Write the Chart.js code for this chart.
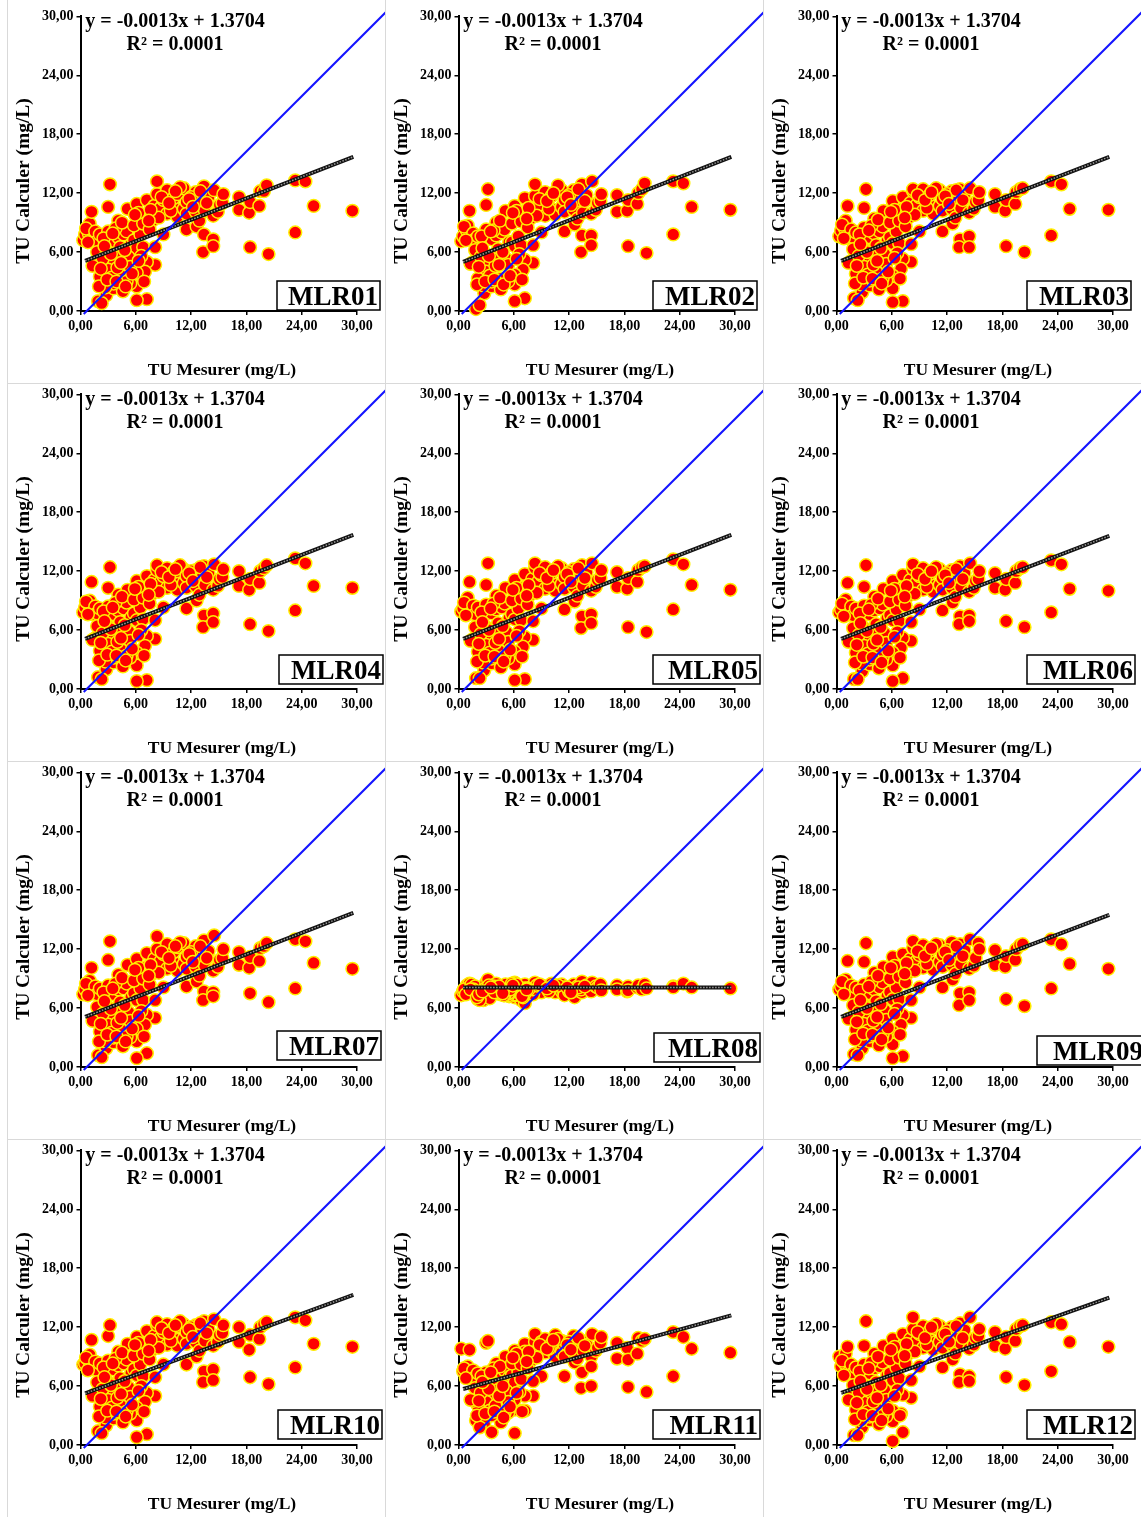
<!DOCTYPE html>
<html>
<head>
<meta charset="utf-8">
<script src="https://cdn.jsdelivr.net/npm/chart.js@4.4.1/dist/chart.umd.min.js"></script>
<style>
  body { margin: 0; background: #fff; }
  #page { position: relative; width: 1141px; height: 1517px; overflow: hidden; background: #fff; }
  .panel { position: absolute; width: 378px; height: 378px; }
  .vline { position: absolute; top: 0; width: 1px; height: 1517px; background: #d9d9d9; }
  .hline { position: absolute; left: 7px; width: 1134px; height: 1px; background: #d9d9d9; }
</style>
</head>
<body>
<div id="page"></div>
<script>
// measured turbidity (shared by every model), mg/L
const measured = [
  0.3,0.5,0.9,1.0,1.2,0.6,1.4,1.6,1.8,2.1,
  3.0,3.0,3.2,3.6,4.1,4.1,4.7,5.0,5.1,5.5,
  5.8,6.1,6.1,6.5,6.5,6.8,7.2,7.2,7.8,8.0,
  8.3,8.3,8.7,9.0,9.4,9.4,9.0,8.1,8.1,7.2,
  7.0,7.2,6.1,6.1,6.1,4.3,4.3,3.2,3.0,2.1,
  1.9,2.8,3.6,4.6,4.6,1.6,1.8,3.0,5.2,5.4,
  5.4,3.6,2.7,10.1,10.1,10.5,10.5,11.2,11.2,11.5,
  11.5,11.5,12.5,12.5,12.6,12.9,12.9,13.4,13.5,13.4,
  13.3,13.9,14.4,14.4,14.4,14.5,14.9,15.1,15.4,15.5,
  17.2,17.2,18.3,18.4,18.4,19.4,19.5,19.9,20.2,20.4,
  23.3,23.3,24.4,25.3,29.5,
  2.5,3.8,4.5,5.8,6.8,7.5,8.5,9.8,2.4,3.4,
  4.0,5.0,6.6,2.3,0.8,6.3,7.6,10.8,12.0,13.0,
  1.3,2.0,
  2.2,2.9,3.3,3.9,4.4,4.9,5.6,6.3,6.9,2.6,
  3.5,4.8,5.9,7.4,8.8,9.6,10.3,11.8,12.2,13.7
];

// calculated turbidity per model
const calcMLR01 = [
  7.2,7.8,7.9,8.9,10.1,8.4,7.2,8.1,7.1,7.8,
  8.1,10.6,12.9,7.1,9.2,7.5,7.8,8.1,10.4,6.8,
  7.2,10.9,6.4,9.2,7.8,6.5,11.3,9.9,9.2,10.7,
  11.9,13.2,10.5,11.3,12.3,9.9,7.8,6.5,4.7,5.0,
  4.0,1.2,1.1,2.5,3.9,6.5,5.5,5.0,4.2,3.5,
  1.0,1.6,2.3,2.0,3.5,4.8,6.0,6.0,5.5,4.5,
  2.8,2.8,2.4,10.6,11.5,11.9,9.6,12.5,10.4,11.1,
  9.9,8.3,12.1,10.1,8.6,11.1,9.2,12.7,10.2,7.8,
  6.0,11.6,9.7,7.3,6.6,12.3,10.1,10.8,11.0,11.9,
  11.6,10.3,10.0,11.1,6.5,10.7,12.2,12.2,12.8,5.8,
  13.3,8.0,13.2,10.7,10.2,
  7.4,8.4,9.0,8.7,8.9,8.3,9.5,10.2,5.3,3.4,
  4.4,3.0,5.6,0.8,7.0,10.0,10.3,12.6,11.6,12.2,
  4.6,2.5,
  4.3,3.2,5.8,3.0,4.9,2.5,3.8,5.1,3.0,6.6,
  7.9,6.2,9.8,9.2,11.6,11.0,12.2,11.4,10.6,11.0
];
const calcMLR02 = [
  7.1,7.6,8.2,8.7,10.2,8.6,7.4,7.9,7.3,7.6,
  8.3,10.8,12.4,7.3,9.0,7.7,8.0,8.3,10.2,7.0,
  7.0,10.7,6.6,9.4,7.6,6.7,11.5,10.1,9.4,10.5,
  11.7,12.9,10.7,11.5,12.1,9.7,8.0,6.7,4.9,5.2,
  4.2,1.3,1.0,2.7,3.7,6.3,5.3,5.2,4.0,3.3,
  0.2,1.8,2.5,2.2,3.3,5.0,6.2,5.8,5.3,4.7,
  3.0,3.0,2.6,10.4,11.7,12.1,9.8,12.3,10.6,11.3,
  10.1,8.1,12.3,10.3,8.8,11.3,9.4,12.9,10.0,7.7,
  6.0,11.8,9.9,7.7,6.7,13.2,10.3,11.0,11.2,11.9,
  11.8,10.1,10.2,11.3,6.6,10.9,12.0,12.4,13.0,5.9,
  13.2,7.8,13.0,10.6,10.3,
  7.6,8.2,9.2,8.9,9.1,8.5,9.7,10.4,5.5,3.6,
  4.6,3.2,5.8,0.6,7.2,10.2,10.5,12.8,11.8,12.4,
  4.8,2.7,
  4.5,3.0,5.6,3.2,4.7,2.7,3.6,5.3,3.2,6.4,
  8.1,6.0,10.0,9.4,11.4,11.2,12.0,11.6,10.8,11.2
];
const calcMLR03 = [
  7.6,8.2,8.4,9.2,10.7,8.8,7.4,8.3,7.5,8.0,
  8.5,10.5,12.4,7.5,9.4,7.9,8.1,8.6,10.2,7.1,
  7.5,11.2,6.9,9.6,8.1,6.9,11.6,10.4,9.5,11.0,
  12.2,12.4,10.8,11.6,12.4,10.2,8.1,6.8,5.0,5.3,
  4.3,1.0,0.9,2.3,3.6,6.7,5.8,5.3,4.5,3.8,
  1.3,1.9,2.6,2.2,3.8,5.1,6.3,6.3,5.8,4.8,
  3.1,3.1,2.7,10.8,11.8,12.2,9.9,12.3,10.7,11.4,
  10.2,8.1,12.2,10.4,8.9,11.4,9.5,12.4,10.5,7.3,
  6.5,11.9,10.0,7.6,6.5,12.5,10.4,11.1,11.3,12.1,
  11.9,10.6,10.2,11.3,6.6,10.9,12.1,12.4,12.5,6.0,
  13.2,7.7,12.9,10.4,10.3,
  7.8,8.7,9.3,9.0,9.2,8.6,9.8,10.5,5.6,3.7,
  4.7,3.3,5.9,1.1,7.4,10.3,10.6,12.5,11.9,12.3,
  4.9,2.8,
  4.6,3.4,6.0,3.3,5.1,2.8,4.0,5.4,3.3,6.8,
  8.2,6.4,10.1,9.5,11.8,11.3,12.1,11.7,10.9,11.3
];
const calcMLR04 = [
  7.8,8.3,8.6,9.0,10.9,8.9,7.6,8.4,7.7,8.2,
  8.4,10.3,12.4,7.6,9.6,8.0,8.2,8.8,10.1,7.3,
  7.7,11.0,7.0,9.8,8.3,7.1,11.5,10.3,9.7,11.1,
  12.1,12.6,10.9,11.5,12.3,10.3,8.3,7.0,5.1,5.4,
  4.4,0.9,0.8,2.4,3.7,6.8,5.9,5.4,4.6,3.9,
  1.2,2.0,2.7,2.3,3.9,5.2,6.4,6.4,5.9,4.9,
  3.2,3.2,2.8,10.9,11.9,12.0,10.1,12.2,10.8,11.5,
  10.3,8.2,12.1,10.5,9.0,11.5,9.6,12.5,10.6,7.5,
  6.3,11.8,10.1,7.7,6.8,12.7,10.5,11.2,11.4,12.2,
  12.0,10.5,10.1,11.2,6.6,10.8,12.0,12.3,12.6,5.9,
  13.3,8.0,12.8,10.5,10.3,
  7.9,8.8,9.4,9.1,9.3,8.7,9.9,10.6,5.7,3.8,
  4.8,3.4,6.0,1.0,7.6,10.4,10.7,12.6,12.0,12.4,
  5.0,2.9,
  4.7,3.5,6.1,3.4,5.2,2.9,4.1,5.5,3.4,6.9,
  8.3,6.5,10.2,9.6,11.9,11.4,12.2,11.8,11.0,11.4
];
const calcMLR05 = [
  7.9,8.2,8.7,9.3,10.9,8.8,7.7,8.5,7.6,8.3,
  8.6,10.6,12.8,7.7,9.5,8.1,8.3,8.7,10.3,7.2,
  7.6,11.1,7.1,9.7,8.2,7.0,11.7,10.4,9.6,11.2,
  12.3,12.8,11.0,11.6,12.4,10.2,8.2,6.9,5.0,5.3,
  4.3,1.0,0.9,2.5,3.8,6.7,5.8,5.3,4.5,3.8,
  1.1,1.9,2.6,2.2,3.8,5.1,6.3,6.3,5.8,4.8,
  3.1,3.1,2.7,10.8,11.8,12.1,10.0,12.3,10.7,11.4,
  10.2,8.1,12.2,10.4,8.9,11.4,9.5,12.6,10.5,7.4,
  6.2,11.9,10.0,7.6,6.7,12.8,10.4,11.1,11.3,12.1,
  11.9,10.4,10.2,11.3,6.3,10.9,12.1,12.4,12.5,5.8,
  13.2,8.1,12.7,10.6,10.1,
  7.8,8.7,9.3,9.0,9.2,8.6,9.8,10.5,5.6,3.7,
  4.7,3.3,5.9,1.1,7.5,10.3,10.6,12.5,11.9,12.3,
  4.9,2.8,
  4.6,3.4,6.0,3.3,5.1,2.8,4.0,5.4,3.3,6.8,
  8.2,6.4,10.1,9.5,11.8,11.3,12.1,11.7,10.9,11.3
];
const calcMLR06 = [
  7.8,8.1,8.5,9.1,10.8,8.7,7.6,8.4,7.5,8.2,
  8.5,10.4,12.6,7.6,9.4,8.0,8.2,8.6,10.2,7.2,
  7.5,11.0,7.0,9.6,8.1,6.9,11.6,10.3,9.5,11.1,
  12.2,12.7,10.9,11.5,12.3,10.1,8.1,6.8,4.9,5.2,
  4.2,1.1,0.8,2.4,3.7,6.6,5.7,5.2,4.4,3.7,
  1.0,1.8,2.5,2.1,3.7,5.0,6.2,6.2,5.7,4.7,
  3.0,3.0,2.6,10.7,11.7,12.0,9.9,12.2,10.6,11.3,
  10.1,8.0,12.1,10.3,8.8,11.3,9.4,12.5,10.4,7.4,
  6.6,11.8,9.9,7.5,6.9,12.8,10.3,11.0,11.2,12.0,
  11.8,10.3,10.1,11.2,6.9,10.8,12.0,12.3,12.4,6.3,
  13.1,7.8,12.7,10.2,10.0,
  7.7,8.6,9.2,8.9,9.1,8.5,9.7,10.4,5.5,3.6,
  4.6,3.2,5.8,1.0,7.4,10.2,10.5,12.4,11.8,12.2,
  4.8,2.7,
  4.5,3.3,5.9,3.2,5.0,2.7,3.9,5.3,3.2,6.7,
  8.1,6.3,10.0,9.4,11.7,11.2,12.0,11.6,10.8,11.2
];
const calcMLR07 = [
  7.4,7.9,8.3,8.8,10.1,8.5,7.5,8.2,7.4,8.0,
  8.3,10.9,12.8,7.4,9.4,7.9,8.0,8.5,10.4,7.1,
  7.5,11.0,6.8,9.5,8.0,6.8,11.6,10.2,9.5,11.0,
  12.0,13.3,10.8,11.5,12.5,10.0,8.1,6.8,5.0,5.3,
  4.3,1.4,0.9,2.6,3.9,6.6,5.6,5.1,4.3,3.6,
  1.2,1.9,2.5,2.1,3.7,4.9,6.1,6.1,5.6,4.7,
  3.0,3.0,2.6,10.7,11.7,12.2,9.8,12.6,10.5,11.2,
  10.0,8.2,12.3,10.2,8.7,11.2,9.3,12.9,10.3,7.7,
  6.8,11.8,9.8,7.6,7.2,13.4,10.2,10.9,11.1,12.0,
  11.7,10.4,10.1,11.2,7.5,10.8,12.1,12.3,12.6,6.6,
  13.0,8.0,12.8,10.6,10.0,
  7.6,8.5,9.1,8.8,9.0,8.4,9.6,10.3,5.4,3.5,
  4.5,3.1,5.7,1.0,7.3,10.1,10.4,12.7,11.7,12.3,
  4.7,2.6,
  4.4,3.3,5.9,3.1,5.0,2.6,3.9,5.2,3.1,6.7,
  8.0,6.3,9.9,9.3,11.7,11.1,12.3,11.5,10.7,11.1
];
const calcMLR08 = [
  7.3,7.7,8.3,8.0,8.5,7.9,8.4,7.6,8.2,7.0,
  8.2,8.6,8.9,7.4,8.5,7.8,8.1,7.6,8.4,7.2,
  7.9,8.6,7.1,8.3,7.7,6.8,8.4,8.0,7.6,8.2,
  8.5,8.6,8.0,8.3,8.2,7.8,7.6,7.4,7.9,6.5,
  7.1,7.5,7.3,7.8,7.4,8.0,7.5,7.7,7.2,6.9,
  7.3,7.6,7.9,7.4,7.6,7.9,7.5,7.1,7.8,7.3,
  7.5,7.8,6.8,8.0,8.5,8.2,7.6,8.4,7.7,8.1,
  7.5,7.3,8.4,7.6,7.1,8.2,7.8,8.7,8.0,7.6,
  7.9,8.3,7.8,8.0,7.7,8.6,8.2,8.1,8.4,7.8,
  8.3,7.9,7.7,8.2,7.8,8.1,8.3,7.9,8.4,8.0,
  8.2,8.1,8.5,8.1,8.0,
  7.6,8.2,7.9,8.5,7.4,8.0,8.3,7.7,7.2,7.0,
  7.8,7.3,8.1,6.8,7.4,8.2,7.9,8.3,7.7,8.1,
  7.9,7.1,
  7.4,8.0,8.3,7.6,8.2,7.3,7.9,8.4,7.2,7.7,
  8.1,7.5,8.3,7.9,8.4,8.0,8.3,8.1,7.6,8.2
];
const calcMLR09 = [
  7.9,8.2,8.5,8.9,10.8,8.7,7.5,8.3,7.4,8.1,
  8.4,10.7,12.6,7.5,9.6,7.9,8.1,8.6,10.2,7.2,
  7.6,11.2,6.9,9.6,8.1,6.9,11.5,10.3,9.6,11.0,
  12.1,12.8,10.8,11.4,12.4,10.1,8.1,6.8,5.0,5.3,
  4.3,1.1,0.9,2.3,3.6,6.7,5.8,5.2,4.4,3.8,
  1.3,1.9,2.6,2.2,3.8,5.0,6.3,6.3,5.8,4.8,
  3.1,3.1,2.7,10.8,11.8,12.1,9.9,12.4,10.7,11.4,
  10.2,8.1,12.7,10.4,8.9,11.4,9.5,12.5,10.5,7.5,
  6.3,11.9,10.0,7.6,6.8,13.0,10.3,11.1,12.6,12.0,
  11.9,10.4,10.2,11.3,6.9,10.9,12.0,12.4,12.5,6.2,
  13.0,8.0,12.5,10.5,10.0,
  7.8,8.7,9.3,9.0,9.2,8.6,9.8,10.5,5.6,3.7,
  4.7,3.3,5.9,1.2,7.4,10.3,10.6,12.5,11.9,12.3,
  4.9,2.8,
  4.6,3.4,6.0,3.3,5.1,2.8,4.0,5.4,3.3,6.8,
  8.2,6.4,10.1,9.5,11.8,11.3,12.1,11.7,10.9,11.3
];
const calcMLR10 = [
  8.2,8.3,8.6,9.2,10.7,8.9,7.7,8.5,7.6,8.3,
  8.6,11.1,12.2,7.7,9.5,8.1,8.3,8.7,10.3,7.3,
  7.7,11.0,7.1,9.7,8.2,7.0,11.6,10.4,9.7,11.1,
  12.2,12.5,10.9,11.5,12.3,10.2,8.2,6.9,5.0,5.3,
  4.4,1.1,0.8,2.5,3.8,6.8,5.9,5.4,4.6,3.9,
  1.4,2.0,2.7,2.3,3.9,5.2,6.4,6.4,5.9,4.9,
  3.2,3.2,2.8,10.9,11.9,12.1,10.1,12.3,10.8,11.5,
  10.3,8.2,12.2,10.5,9.0,11.5,9.6,12.6,10.6,7.5,
  6.4,11.8,10.1,7.7,6.6,12.8,10.5,11.2,11.4,12.2,
  12.0,10.5,9.7,11.2,6.9,10.8,12.0,12.3,12.5,6.2,
  13.0,7.9,12.7,10.3,10.0,
  7.9,8.8,9.4,9.1,9.3,8.7,9.9,10.6,5.7,3.8,
  4.8,3.4,6.0,1.2,7.6,10.4,10.7,12.6,12.0,12.4,
  5.0,2.9,
  4.7,3.5,6.1,3.4,5.2,2.9,4.1,5.5,3.4,6.9,
  8.3,6.5,10.2,9.6,11.9,11.4,12.2,11.8,11.0,11.4
];
const calcMLR11 = [
  9.8,7.5,7.3,8.0,9.7,7.8,7.1,7.6,6.9,7.3,
  7.4,10.4,10.6,6.8,8.3,7.6,7.3,7.6,9.0,6.9,
  7.1,9.6,6.4,8.6,7.4,6.7,10.3,9.5,8.5,9.5,
  10.5,11.3,9.8,10.5,10.8,9.4,7.0,6.5,5.0,5.0,
  3.5,3.5,1.2,3.6,4.6,6.2,5.6,4.8,4.4,4.0,
  2.5,2.2,1.3,2.3,3.6,4.5,5.8,5.9,5.5,4.4,
  3.3,3.0,2.8,9.6,10.3,11.2,9.0,10.6,9.4,10.2,
  9.0,7.0,11.1,9.4,8.4,10.2,8.8,10.6,9.6,7.4,
  5.8,10.2,9.0,8.0,6.0,11.3,9.6,9.9,10.4,11.0,
  10.4,8.8,9.9,8.7,5.9,9.3,10.9,10.6,10.8,5.4,
  11.5,7.0,11.0,9.8,9.4,
  7.0,7.8,8.0,8.3,8.2,7.8,8.9,9.8,5.3,3.5,
  4.0,3.2,5.4,1.8,6.8,9.3,9.5,10.8,10.5,10.9,
  4.6,3.0,
  4.5,3.2,5.7,3.4,5.0,2.8,3.9,5.3,3.4,6.4,
  7.4,6.0,8.9,8.5,10.2,9.8,10.7,10.2,9.7,10.1
];
const calcMLR12 = [
  9.0,8.0,8.3,9.3,10.0,8.6,7.5,8.2,7.3,7.9,
  8.2,10.1,12.6,7.3,9.3,7.8,8.0,8.4,10.1,7.1,
  7.3,10.8,6.6,9.4,7.9,6.8,11.3,10.1,9.3,10.8,
  11.8,13.0,10.6,11.3,12.1,9.9,8.0,6.6,4.8,5.1,
  3.2,1.3,0.4,2.4,3.5,6.4,5.6,5.1,4.3,3.6,
  1.0,1.8,2.5,2.1,3.6,4.9,6.1,6.1,5.6,4.6,
  2.9,2.9,2.5,10.6,11.6,11.9,9.7,12.1,10.5,11.2,
  9.9,7.9,12.0,10.2,8.7,11.2,9.3,12.4,10.3,7.2,
  6.4,11.7,9.8,7.0,6.5,13.0,10.2,10.9,11.1,11.8,
  11.5,10.1,9.8,11.0,6.9,10.6,11.8,12.1,12.2,6.1,
  12.5,7.5,12.3,10.5,10.0,
  7.5,8.4,9.0,8.7,8.9,8.3,9.5,10.2,5.3,3.4,
  4.4,3.0,5.6,1.0,7.1,10.0,10.3,12.3,11.6,12.1,
  4.6,2.6,
  4.3,3.1,5.7,3.0,4.8,2.5,3.7,5.0,3.0,6.5,
  7.8,6.1,9.7,9.1,11.5,10.9,12.0,11.3,10.5,10.9
];

const modelNames = ['MLR01','MLR02','MLR03','MLR04','MLR05','MLR06','MLR07','MLR08','MLR09','MLR10','MLR11','MLR12'];
const calcSeries = [calcMLR01, calcMLR02, calcMLR03, calcMLR04, calcMLR05, calcMLR06,
                    calcMLR07, calcMLR08, calcMLR09, calcMLR10, calcMLR11, calcMLR12];

// fitted trend line, read at both ends
const trendX = [0.5, 29.6];
const trendStart = [5.1, 5.0, 5.1, 5.1, 5.1, 5.1, 5.1, 8.1, 5.1, 5.25, 5.7, 5.3];
const trendEnd   = [15.7, 15.7, 15.7, 15.7, 15.7, 15.6, 15.7, 8.1, 15.5, 15.3, 13.2, 15.0];

// 1:1 reference line
const identityX = [0.35, 33.2];
const identityY = [-0.3, 30.5];

const axisMax = 30;
const tickStep = 6;
const eqText = 'y = -0.0013x + 1.3704';
const r2Text = 'R² = 0.0001';
const xTitle = 'TU Mesurer (mg/L)';
const yTitle = 'TU Calculer (mg/L)';

// label box placement per panel (x, y, w)
const boxLayout = [
  [270, 276, 103], [268, 276, 104], [264, 276, 104],
  [272, 272, 104], [268, 272, 107], [264, 272, 108],
  [270, 270, 104], [269, 272, 106], [274, 275, 108],
  [271, 271, 104], [268, 271, 107], [264, 271, 108]
];

const serif = "'Liberation Serif', 'Times New Roman', serif";

const panelDecor = {
  id: 'panelDecor',
  afterDraw(chart, args, opts) {
    const ctx = chart.ctx;
    ctx.save();
    ctx.fillStyle = '#000';
    ctx.textAlign = 'center';
    ctx.textBaseline = 'middle';
    ctx.font = `bold 20px ${serif}`;
    ctx.fillText(eqText, 168, 17);
    ctx.fillText(r2Text, 168, 40);
    ctx.font = `bold 17.5px ${serif}`;
    ctx.fillText(xTitle, 215, 365);
    ctx.font = `bold 19.5px ${serif}`;
    ctx.translate(17, 176);
    ctx.rotate(-Math.PI / 2);
    ctx.fillText(yTitle, 0, 0);
    ctx.restore();

    const [bx, by, bw] = opts.box;
    const bh = 29;
    ctx.save();
    ctx.fillStyle = '#fff';
    ctx.fillRect(bx, by, bw, bh);
    ctx.strokeStyle = '#000';
    ctx.lineWidth = 1.5;
    ctx.strokeRect(bx, by, bw, bh);
    ctx.fillStyle = '#000';
    ctx.font = `bold 27px ${serif}`;
    ctx.textAlign = 'right';
    ctx.textBaseline = 'alphabetic';
    ctx.fillText(opts.name, bx + bw - 2, by + bh - 5);
    ctx.restore();
  }
};

function fmtTick(v) {
  return v.toFixed(2).replace('.', ',');
}

function axisOptions(fit) {
  return {
    type: 'linear',
    min: 0,
    max: axisMax,
    afterFit: fit,
    ticks: {
      stepSize: tickStep,
      autoSkip: false,
      maxRotation: 0,
      padding: 3,
      color: '#000',
      font: { family: serif, size: 14, weight: 'bold' },
      callback: fmtTick
    },
    grid: { drawOnChartArea: false, drawTicks: true, tickLength: 4, color: '#000', lineWidth: 1.5 },
    border: { display: true, color: '#000', width: 2 }
  };
}

const page = document.getElementById('page');
[7, 385, 763].forEach(x => {
  const d = document.createElement('div');
  d.className = 'vline';
  d.style.left = x + 'px';
  page.appendChild(d);
});
[383, 761, 1139].forEach(y => {
  const d = document.createElement('div');
  d.className = 'hline';
  d.style.top = y + 'px';
  page.appendChild(d);
});

modelNames.forEach((name, i) => {
  const row = Math.floor(i / 3);
  const col = i % 3;
  const wrap = document.createElement('div');
  wrap.className = 'panel';
  wrap.style.left = (7 + col * 378) + 'px';
  wrap.style.top = (5 + row * 378) + 'px';
  const canvas = document.createElement('canvas');
  canvas.width = 378;
  canvas.height = 378;
  wrap.appendChild(canvas);
  page.appendChild(wrap);

  const points = measured.map((x, k) => ({ x: x, y: calcSeries[i][k] }));
  const trend = trendX.map((x, k) => ({ x: x, y: k === 0 ? trendStart[i] : trendEnd[i] }));
  const identity = identityX.map((x, k) => ({ x: x, y: identityY[k] }));

  new Chart(canvas, {
    type: 'scatter',
    data: {
      datasets: [
        { data: identity, showLine: true, borderColor: '#1414ff', borderWidth: 2, pointRadius: 0, clip: false, order: 0 },
        { data: trend, showLine: true, borderColor: '#9a9a9a', borderWidth: 1.5, borderDash: [1.5, 1.5], pointRadius: 0, order: 1 },
        { data: trend, showLine: true, borderColor: '#111', borderWidth: 4, pointRadius: 0, order: 2 },
        { data: points, backgroundColor: '#ff0000', borderColor: '#ffee00', borderWidth: 1.5, pointRadius: 6.4, clip: false, order: 3 }
      ]
    },
    options: {
      responsive: false,
      animation: false,
      devicePixelRatio: 1,
      layout: { padding: { top: 9, right: 28, left: 0, bottom: 0 } },
      plugins: {
        legend: { display: false },
        tooltip: { enabled: false },
        panelDecor: { name: name, box: boxLayout[i] }
      },
      scales: {
        x: axisOptions(s => { s.height = 72; }),
        y: axisOptions(s => { s.width = 73.5; })
      }
    },
    plugins: [panelDecor]
  });
});
</script>
</body>
</html>
